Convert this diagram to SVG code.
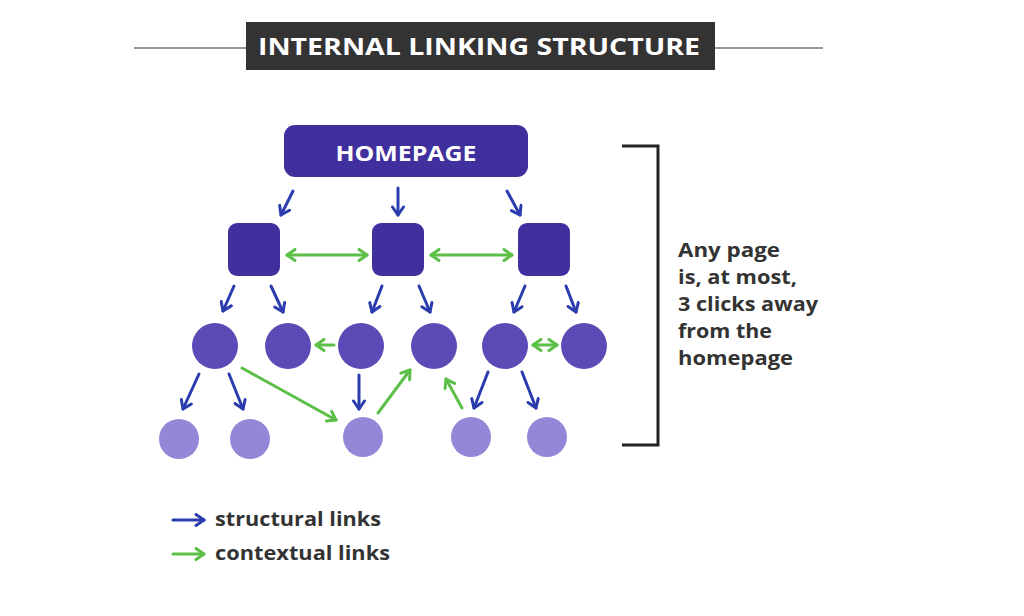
<svg xmlns="http://www.w3.org/2000/svg" width="1024" height="616" viewBox="0 0 1024 616">
<style>
.blue{stroke:#2b3caf;stroke-width:3;fill:none;stroke-linecap:round;marker-end:url(#ab)}
.green{stroke:#5cbf48;stroke-width:3;fill:none;stroke-linecap:round;marker-end:url(#ag)}
.gboth{stroke:#5cbf48;stroke-width:3;fill:none;stroke-linecap:round;marker-end:url(#ag);marker-start:url(#ag)}
.sq{fill:#40309e}
.c2{fill:#5a4bb6}
.c3{fill:#9487d8}
.lbl{font-family:"Open Sans","Liberation Sans",sans-serif;font-weight:700;fill:#333333}
</style>
<defs>
<marker id="ab" viewBox="0 0 14 14" refX="11" refY="7" markerWidth="14" markerHeight="14" markerUnits="userSpaceOnUse" orient="auto-start-reverse"><path d="M3,1.5 L11,7 L3,12.5" fill="none" stroke="#2b3caf" stroke-width="3" stroke-linecap="round" stroke-linejoin="round"/></marker>
<marker id="ag" viewBox="0 0 14 14" refX="11" refY="7" markerWidth="14" markerHeight="14" markerUnits="userSpaceOnUse" orient="auto-start-reverse"><path d="M3,1.5 L11,7 L3,12.5" fill="none" stroke="#5cbf48" stroke-width="3" stroke-linecap="round" stroke-linejoin="round"/></marker>
</defs>
<rect width="1024" height="616" fill="#ffffff"/>
<g id="title">
<line x1="134" y1="48" x2="246" y2="48" stroke="#999" stroke-width="2"/>
<line x1="715" y1="48" x2="823" y2="48" stroke="#999" stroke-width="2"/>
<rect x="246" y="22" width="469" height="48" fill="#333333"/>
<text x="479" y="55" text-anchor="middle" font-family="'Open Sans','Liberation Sans',sans-serif" font-weight="700" font-size="24" fill="#ffffff" textLength="442" lengthAdjust="spacingAndGlyphs">INTERNAL LINKING STRUCTURE</text>
</g>
<g id="homepage">
<rect x="284" y="125" width="244" height="52" rx="11" class="sq"/>
<text x="406" y="161" text-anchor="middle" font-family="'Open Sans','Liberation Sans',sans-serif" font-weight="700" font-size="22" fill="#ffffff" textLength="141" lengthAdjust="spacingAndGlyphs">HOMEPAGE</text>
</g>
<g id="sq1"><rect x="228" y="223" width="52" height="53" rx="9" class="sq"/></g>
<g id="sq2"><rect x="372" y="223" width="52" height="53" rx="9" class="sq"/></g>
<g id="sq3"><rect x="518" y="223" width="52" height="53" rx="9" class="sq"/></g>
<g id="p1"><circle cx="215" cy="346" r="23" class="c2"/></g>
<g id="p2"><circle cx="288" cy="346" r="23" class="c2"/></g>
<g id="p3"><circle cx="361" cy="346" r="23" class="c2"/></g>
<g id="p4"><circle cx="434" cy="346" r="23" class="c2"/></g>
<g id="p5"><circle cx="505" cy="346" r="23" class="c2"/></g>
<g id="p6"><circle cx="584" cy="346" r="23" class="c2"/></g>
<g id="q1"><circle cx="179" cy="439" r="20" class="c3"/></g>
<g id="q2"><circle cx="250" cy="439" r="20" class="c3"/></g>
<g id="q3"><circle cx="363" cy="437" r="20" class="c3"/></g>
<g id="q4"><circle cx="471" cy="437" r="20" class="c3"/></g>
<g id="q5"><circle cx="547" cy="437" r="20" class="c3"/></g>
<g id="connectors">
<line x1="293" y1="191" x2="281" y2="215" class="blue"/>
<line x1="398" y1="188" x2="398" y2="215" class="blue"/>
<line x1="507" y1="191" x2="520" y2="215" class="blue"/>
<line x1="287" y1="255" x2="367" y2="255" class="gboth"/>
<line x1="431" y1="255" x2="512" y2="255" class="gboth"/>
<line x1="234" y1="286" x2="223" y2="311" class="blue"/>
<line x1="271" y1="286" x2="283" y2="312" class="blue"/>
<line x1="382" y1="286" x2="372" y2="312" class="blue"/>
<line x1="419" y1="286" x2="430" y2="312" class="blue"/>
<line x1="525" y1="286" x2="514" y2="312" class="blue"/>
<line x1="566" y1="286" x2="576" y2="312" class="blue"/>
<line x1="199" y1="374" x2="183" y2="409" class="blue"/>
<line x1="229" y1="374" x2="243" y2="409" class="blue"/>
<line x1="359" y1="375" x2="359" y2="409" class="blue"/>
<line x1="488" y1="372" x2="474" y2="408" class="blue"/>
<line x1="522" y1="372" x2="536" y2="408" class="blue"/>
<line x1="334" y1="345" x2="316" y2="345" class="green"/>
<line x1="533" y1="345" x2="557" y2="345" class="gboth"/>
<line x1="242" y1="368" x2="336" y2="420" class="green"/>
<line x1="378" y1="413" x2="410" y2="370" class="green"/>
<line x1="462" y1="408" x2="446" y2="379" class="green"/>
</g>
<g id="bracket">
<polyline points="622,146 658,146 658,445 622,445" fill="none" stroke="#222222" stroke-width="3"/>
</g>
<g id="note">
<text class="lbl" x="678" y="257" font-size="20" textLength="102" lengthAdjust="spacingAndGlyphs">Any page</text>
<text class="lbl" x="678" y="284" font-size="20" textLength="119" lengthAdjust="spacingAndGlyphs">is, at most,</text>
<text class="lbl" x="678" y="311" font-size="20" textLength="140" lengthAdjust="spacingAndGlyphs">3 clicks away</text>
<text class="lbl" x="678" y="338" font-size="20" textLength="94" lengthAdjust="spacingAndGlyphs">from the</text>
<text class="lbl" x="678" y="365" font-size="20" textLength="115" lengthAdjust="spacingAndGlyphs">homepage</text>
</g>
<g id="legend">
<line x1="173" y1="520" x2="204" y2="520" class="blue"/>
<text class="lbl" x="215" y="526" font-size="19" textLength="166" lengthAdjust="spacingAndGlyphs">structural links</text>
<line x1="173" y1="554" x2="204" y2="554" class="green"/>
<text class="lbl" x="215" y="560" font-size="19" textLength="175" lengthAdjust="spacingAndGlyphs">contextual links</text>
</g>
</svg>
